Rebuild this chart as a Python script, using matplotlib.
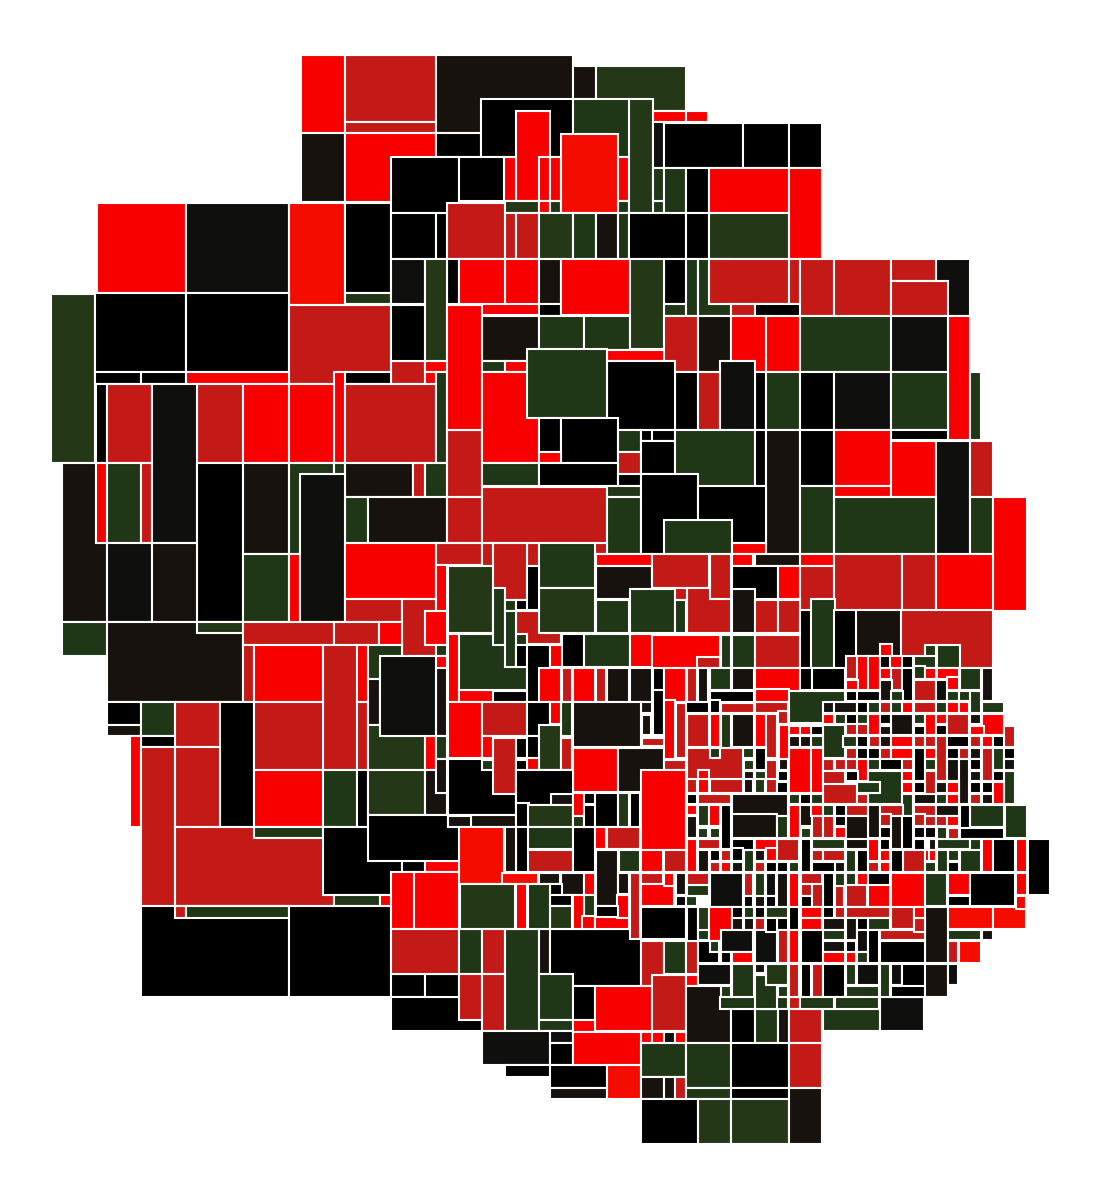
import matplotlib
matplotlib.use("Agg")
import matplotlib.pyplot as plt
from matplotlib.patches import Rectangle

# picture units: x right, y down. each box = (left, top, right, bottom, shade)
shades = {"R": "#f90000", "O": "#f40c00", "C": "#c41a17", "G": "#1f3716", "L": "#243717",
          "K": "#000000", "D": "#17120e", "N": "#0f0f0d"}

boxes_top = [
    (301,55,345,133,"R"), (345,55,436,122,"C"), (345,122,436,133,"C"), (436,55,573,133,"D"),
    (573,66,596,99,"D"), (596,66,686,111,"L"), (301,133,345,202,"D"), (345,133,436,202,"R"),
    (436,133,481,157,"K"), (481,99,573,157,"K"), (573,99,630,157,"G"), (653,111,686,122,"R"),
    (686,111,708,122,"R"), (516,111,550,201,"R"), (504,157,516,201,"R"), (539,157,550,201,"R"),
    (550,157,561,201,"R"), (618,157,629,201,"R"), (391,157,459,213,"K"), (459,157,504,201,"K"),
    (504,201,539,213,"L"), (539,201,550,213,"R"), (550,201,561,213,"G"), (618,201,629,213,"G"),
    (653,201,664,213,"G"), (561,134,618,213,"O"), (629,99,653,213,"L"),
    (653,122,664,168,"N"), (664,123,743,168,"K"), (743,123,789,168,"K"), (789,123,822,168,"K"),
    (653,168,664,201,"G"), (664,168,686,213,"G"), (686,168,709,213,"K"), (709,168,789,213,"R"),
    (789,168,822,259,"R"), (391,213,436,259,"K"), (436,213,447,259,"K"), (505,213,516,259,"C"),
    (516,213,539,259,"C"), (539,213,573,259,"L"), (573,213,596,259,"G"), (596,213,618,259,"D"),
    (618,213,629,259,"G"), (629,213,686,259,"K"), (686,213,709,259,"K"), (709,213,789,259,"L"),
    (447,203,505,259,"C"),
]

boxes_upper_mid = [
    (391,259,425,304,"N"), (447,259,459,304,"K"), (459,259,539,315,"R"), (505,259,539,304,"R"),
    (459,259,505,304,"R"), (539,259,561,304,"D"), (539,304,561,316,"K"), (561,259,630,315,"R"),
    (664,259,686,304,"K"), (664,304,686,316,"G"), (686,259,698,316,"G"), (698,259,731,316,"G"),
    (709,259,789,304,"C"), (731,304,755,316,"C"), (789,259,800,304,"C"), (755,304,800,316,"K"),
    (800,259,834,316,"C"), (834,259,891,316,"C"), (936,259,970,316,"N"), (891,259,936,281,"C"),
    (891,281,948,316,"C"), (391,305,425,361,"K"), (425,259,447,361,"L"), (482,316,539,361,"D"),
    (539,316,584,350,"G"), (584,316,630,350,"G"), (630,259,664,349,"L"), (664,316,698,372,"C"),
    (698,316,731,372,"D"), (731,316,766,372,"R"), (766,316,800,372,"R"), (800,316,891,372,"G"),
    (891,316,948,372,"N"), (948,316,970,440,"R"), (970,372,981,440,"G"), (447,305,482,430,"R"),
    (482,361,505,372,"G"), (505,361,527,372,"R"), (607,350,664,361,"R"), (482,372,539,463,"R"),
    (755,372,766,430,"K"), (766,372,800,430,"G"), (800,372,834,430,"K"), (834,372,891,430,"N"),
    (891,372,948,430,"G"), (891,430,948,440,"K"), (675,372,698,430,"K"), (698,372,720,430,"C"),
    (720,361,755,430,"N"), (607,361,675,430,"K"), (527,349,607,418,"G"),
]

boxes_left = [
    (97,203,186,293,"R"), (186,203,289,293,"N"), (289,203,345,305,"O"), (345,203,391,293,"K"),
    (345,293,391,304,"G"), (51,294,95,463,"L"), (95,293,186,372,"K"), (186,293,289,372,"K"),
    (289,305,391,384,"C"), (391,361,425,384,"C"), (95,372,141,384,"K"), (141,372,186,384,"K"),
    (186,372,289,384,"R"), (345,372,391,384,"K"), (334,372,345,463,"R"), (425,361,447,372,"R"),
    (425,372,436,463,"R"),
    (96,384,107,463,"K"), (107,384,152,463,"C"), (197,384,243,463,"C"), (243,384,289,463,"R"),
    (289,384,334,463,"R"), (345,384,436,463,"C"), (436,372,447,463,"G"), (62,463,107,622,"D"),
    (96,463,107,543,"R"), (107,463,141,543,"G"), (141,463,152,543,"C"), (152,384,197,543,"N"),
    (197,463,243,622,"K"), (243,463,289,554,"D"), (289,463,334,554,"G"), (334,463,345,543,"G"),
    (345,463,413,497,"D"), (413,463,425,497,"C"), (425,463,447,497,"G"), (447,430,482,497,"C"),
    (345,497,368,543,"G"), (368,497,447,543,"D"), (447,497,482,543,"C"), (482,487,607,554,"C"),
    (107,543,152,622,"N"), (152,543,197,622,"D"), (243,554,289,622,"G"), (289,554,300,633,"R"),
    (300,474,345,622,"N"), (345,543,436,599,"R"), (345,599,402,622,"C"),
    (402,599,436,656,"C"), (436,543,482,565,"C"), (436,565,447,622,"R"), (425,611,447,645,"R"),
    (62,622,107,656,"G"), (107,622,243,702,"D"), (197,622,243,633,"G"), (243,622,334,645,"C"),
    (334,622,379,645,"C"), (379,622,402,645,"R"), (243,645,254,702,"C"), (254,645,323,702,"R"),
    (323,645,357,770,"C"), (357,645,368,702,"R"), (357,702,368,770,"C"), (368,645,402,679,"G"),
    (107,702,141,725,"K"), (107,725,141,736,"D"), (141,702,175,736,"G"), (141,736,175,747,"K"),
    (175,702,220,747,"C"), (220,702,254,827,"K"), (254,702,323,770,"C"), (254,770,323,827,"R"),
    (323,770,357,827,"G"), (357,770,368,827,"K"), (368,679,380,725,"D"), (368,725,425,770,"L"),
    (368,770,425,815,"L"), (425,736,436,770,"R"), (425,770,447,815,"D"),
    (436,645,447,656,"G"), (436,656,447,668,"R"), (436,668,447,736,"D"), (436,736,447,759,"G"),
    (436,759,447,793,"D"), (380,656,436,736,"N"), (130,736,141,827,"R"), (141,747,175,906,"C"),
    (175,747,220,827,"C"), (175,827,334,906,"C"), (254,827,323,838,"G"), (323,827,402,895,"K"),
    (334,895,380,906,"G"), (380,895,391,906,"R"), (402,861,425,872,"K"), (425,861,459,872,"R"),
    (368,815,459,861,"K"), (141,906,289,997,"K"), (175,906,186,918,"C"),
    (186,906,289,918,"G"), (289,906,391,997,"K"), (391,974,425,997,"K"), (391,997,482,1031,"K"),
    (425,974,459,997,"K"), (391,872,414,929,"R"), (414,872,459,929,"R"), (391,929,459,974,"C"),
]

boxes_centre = [
    (539,418,561,452,"K"), (561,418,618,463,"K"), (618,430,641,452,"G"), (618,452,641,474,"C"),
    (641,430,652,441,"K"), (652,430,675,441,"K"), (641,441,675,474,"K"), (675,430,755,497,"G"),
    (755,430,766,486,"K"), (766,430,800,554,"D"), (800,430,834,486,"K"), (834,430,891,486,"R"),
    (834,486,891,497,"R"), (891,441,936,497,"R"), (800,486,834,554,"G"), (834,497,936,554,"G"),
    (936,441,970,554,"N"), (970,441,993,497,"C"), (970,497,993,554,"G"), (993,497,1027,611,"R"),
    (482,463,539,486,"G"), (539,452,561,463,"R"), (539,463,618,486,"K"), (618,474,641,486,"K"),
    (607,486,641,497,"G"), (607,497,641,554,"G"), (641,474,698,554,"K"), (698,486,766,543,"K"),
    (664,520,732,554,"G"), (732,543,766,554,"R"), (732,554,753,566,"R"), (755,554,800,566,"D"),
    (800,554,834,566,"R"), (482,543,493,566,"C"), (595,543,607,554,"C"),
    (527,543,539,566,"C"), (516,611,561,644,"C"), (493,543,527,600,"C"), (539,543,595,588,"G"),
    (539,588,595,633,"L"), (596,554,652,566,"R"), (596,566,652,599,"D"), (652,554,709,588,"C"),
    (653,588,687,600,"C"), (687,588,731,633,"C"), (710,554,731,599,"C"), (732,566,778,599,"K"),
    (732,589,755,633,"D"), (755,600,778,633,"C"), (778,566,800,599,"R"), (800,566,834,611,"C"),
    (834,554,902,611,"C"), (902,554,936,611,"C"), (936,554,993,611,"R"), (448,566,493,633,"L"),
    (596,600,629,633,"G"), (630,589,675,633,"G"), (675,600,686,633,"G"), (778,600,800,633,"C"),
    (562,634,584,667,"K"), (584,634,630,667,"G"), (630,634,652,667,"R"), (448,634,459,702,"R"),
    (459,690,493,702,"R"), (459,634,527,690,"G"), (493,588,505,645,"G"), (505,600,516,611,"G"),
    (505,611,516,667,"G"), (516,600,527,610,"K"), (527,566,539,610,"K"), (516,645,527,667,"K"),
    (527,645,550,702,"K"), (493,691,527,702,"K"), (550,645,562,667,"R"),
    (539,668,561,702,"R"), (562,668,572,702,"C"), (573,668,595,702,"R"), (596,668,606,702,"C"),
    (607,668,629,702,"D"), (630,668,652,702,"D"), (641,702,652,713,"D"), (653,668,664,702,"K"),
    (448,702,482,758,"R"), (482,702,527,736,"C"),
    (527,702,550,736,"K"), (550,702,561,724,"R"), (561,702,572,736,"G"), (573,702,641,747,"D"),
    (642,715,651,735,"D"), (653,690,664,735,"K"), (642,738,664,746,"C"),
    (482,736,493,758,"R"), (516,738,527,758,"K"),
    (527,736,539,758,"K"), (539,725,561,770,"L"), (561,738,572,770,"C"), (573,748,618,792,"R"),
    (618,748,664,792,"D"), (448,759,516,815,"K"), (482,760,493,770,"G"), (493,738,516,794,"C"),
    (448,815,516,827,"D"), (516,770,573,804,"K"), (527,758,539,770,"R"), (516,760,527,770,"K"),
]

boxes_bottom = [
    (459,929,482,974,"G"), (482,929,505,974,"C"), (505,929,539,1031,"G"), (539,929,550,974,"D"),
    (550,929,641,986,"K"), (641,941,664,986,"C"), (664,941,686,974,"G"), (686,941,698,974,"C"),
    (459,974,482,1020,"C"), (482,974,505,1031,"C"), (539,974,573,1020,"G"), (539,1020,573,1031,"G"),
    (573,986,595,1020,"K"), (595,986,652,1031,"R"), (652,975,686,1031,"C"), (686,975,698,986,"R"),
    (686,986,731,1043,"D"), (731,1009,755,1043,"K"), (755,1009,778,1043,"G"), (778,997,789,1043,"D"),
    (789,997,800,1009,"C"), (789,1009,822,1043,"C"), (823,1009,880,1031,"G"),
    (880,997,924,1031,"N"), (482,1031,550,1065,"N"), (550,1031,573,1043,"N"), (505,1065,550,1077,"K"),
    (550,1043,573,1065,"K"), (550,1065,607,1088,"K"), (550,1088,607,1099,"D"), (573,1020,595,1032,"R"),
    (595,1032,652,1043,"R"), (573,1032,641,1065,"R"), (607,1065,641,1099,"O"), (652,1032,664,1043,"R"),
    (664,1032,675,1043,"N"), (675,1032,686,1043,"R"),
    (641,1043,686,1077,"G"), (641,1077,664,1099,"D"), (664,1077,675,1099,"D"), (675,1077,686,1099,"C"),
    (686,1043,731,1088,"G"), (686,1088,731,1099,"G"), (731,1043,789,1088,"K"), (731,1088,789,1099,"K"),
    (789,1043,822,1088,"C"), (641,1099,698,1144,"K"), (698,1099,731,1144,"L"), (731,1099,789,1144,"L"),
    (789,1088,822,1144,"D"),
]

boxes_mid_right = [
    (653,636,719,667,"R"), (698,658,719,667,"C"), (722,636,730,667,"G"), (733,636,754,667,"G"),
    (756,636,799,667,"C"), (665,669,685,701,"R"), (665,701,674,758,"R"), (688,669,696,701,"C"),
    (699,669,707,701,"D"), (711,669,730,689,"G"), (733,669,753,689,"D"), (756,669,799,690,"R"),
    (756,690,788,701,"R"), (711,692,753,701,"K"), (711,701,719,712,"K"), (687,703,708,712,"K"),
    (722,704,753,712,"C"), (756,703,787,712,"C"), (779,712,787,723,"C"), (677,704,685,757,"C"),
    (688,715,708,746,"C"), (711,715,719,746,"R"), (722,715,730,757,"G"), (730,749,753,757,"G"),
    (733,715,753,746,"D"), (756,715,765,746,"R"), (767,715,776,757,"C"), (778,727,787,758,"R"),
    (756,749,765,769,"K"), (688,749,742,793,"C"), (699,771,708,791,"R"), (711,749,719,757,"G"),
    (665,761,685,769,"C"), (745,761,753,769,"G"), (745,772,753,792,"D"), (756,772,765,792,"G"),
    (767,761,776,792,"C"), (779,761,787,769,"K"), (779,772,787,780,"K"), (779,783,787,792,"K"),
    (642,771,685,849,"R"), (687,795,696,838,"R"),
]

boxes_lower_mid = [
    (449,817,470,826,"D"), (517,771,572,804,"K"), (517,804,528,826,"K"), (517,828,528,871,"K"),
    (506,828,515,871,"D"), (552,795,572,804,"D"), (529,806,572,826,"L"), (529,828,572,848,"G"),
    (529,851,572,871,"C"), (574,828,594,871,"K"), (574,794,583,815,"R"), (574,817,583,826,"G"),
    (585,794,594,803,"K"), (585,806,594,826,"K"), (596,794,617,826,"K"), (619,794,628,826,"G"),
    (631,794,639,826,"K"), (596,828,605,848,"R"), (608,828,639,848,"C"), (597,851,617,905,"D"),
    (620,851,639,871,"G"), (642,851,662,871,"R"), (665,851,685,871,"C"), (687,840,696,871,"R"),
    (460,828,503,883,"O"), (503,874,537,883,"O"), (540,874,559,883,"D"), (562,874,583,894,"D"),
    (585,874,594,894,"R"), (585,896,594,917,"G"), (551,885,561,896,"K"), (551,896,571,905,"K"),
    (551,907,571,928,"L"), (574,896,583,928,"R"), (583,917,594,928,"R"), (596,917,628,928,"R"),
    (618,896,628,917,"R"), (619,874,628,893,"D"), (597,907,617,916,"K"), (631,874,639,938,"C"),
    (642,874,662,883,"C"), (642,885,673,905,"R"), (665,874,673,885,"R"), (677,874,685,894,"D"),
    (677,897,685,905,"K"), (687,897,696,905,"G"), (687,874,696,894,"C"), (642,908,685,938,"K"),
    (687,908,696,938,"G"), (461,885,514,928,"L"), (517,885,526,928,"R"), (529,885,549,928,"G"),
]

boxes_dense_a = [
    (801,611,811,667,"K"), (812,600,834,667,"G"), (835,611,857,667,"K"),
    (857,611,902,655,"D"), (902,611,992,667,"C"), (926,646,935,656,"G"), (938,646,959,667,"G"),
    (881,645,891,656,"R"), (847,657,857,678,"C"), (858,657,868,689,"R"), (869,657,879,689,"R"),
    (881,657,891,667,"K"), (891,657,902,667,"R"), (903,657,912,667,"K"), (915,657,935,667,"G"),
    (915,667,924,678,"G"), (926,669,935,678,"R"), (938,669,958,678,"R"), (948,678,958,689,"R"),
    (961,669,980,689,"G"), (983,669,992,700,"D"), (801,669,811,689,"K"),
    (813,669,844,689,"K"), (847,681,857,689,"R"), (881,669,891,678,"R"), (892,669,902,689,"C"),
    (903,669,912,700,"K"), (915,681,935,700,"C"), (937,681,946,700,"N"), (948,692,958,700,"G"),
    (960,692,970,700,"G"), (971,692,980,712,"G"), (790,692,844,722,"G"), (847,692,857,700,"K"),
    (858,692,879,700,"K"), (881,681,891,700,"D"), (892,692,902,700,"G"), (824,703,833,712,"D"),
    (835,703,856,712,"D"), (858,703,867,712,"K"), (869,703,879,712,"G"), (881,703,891,712,"C"),
    (892,703,902,712,"G"), (903,703,912,712,"R"), (915,703,935,712,"C"), (937,703,946,712,"G"),
    (948,703,958,712,"R"), (960,703,968,712,"R"), (983,703,1003,712,"G"), (824,715,833,723,"R"),
    (836,715,845,723,"G"), (847,715,857,723,"K"), (858,715,867,723,"G"), (869,715,879,734,"R"),
    (881,715,890,723,"K"), (892,715,912,734,"D"), (915,715,924,723,"G"), (926,715,935,734,"R"),
    (937,715,946,723,"R"), (937,726,946,734,"K"), (948,715,968,734,"C"), (971,715,980,723,"D"),
    (983,715,1003,734,"R"), (971,727,983,734,"R"), (790,727,799,734,"R"), (801,727,811,734,"R"),
    (812,727,822,734,"K"), (824,726,844,757,"G"), (844,737,856,746,"G"), (847,725,857,734,"C"),
    (858,725,867,734,"C"), (881,727,890,734,"D"), (915,727,924,734,"K"), (1005,727,1014,746,"C"),
    (790,737,799,746,"D"), (801,737,811,746,"D"), (812,737,822,746,"G"), (858,737,867,746,"K"),
    (870,737,879,746,"C"), (881,737,890,746,"D"), (892,737,912,746,"R"), (915,737,924,746,"C"),
    (926,737,935,746,"C"), (937,737,946,780,"C"), (948,737,968,746,"K"), (971,737,980,746,"C"),
    (983,737,992,746,"R"), (994,737,1003,746,"K"), (790,749,811,792,"R"), (812,749,822,792,"R"),
    (847,749,857,758,"C"), (858,749,867,758,"K"), (869,749,879,758,"K"), (881,749,890,758,"C"),
    (892,749,912,758,"R"), (915,749,924,780,"K"), (926,749,935,758,"R"), (948,749,958,758,"K"),
    (960,749,968,758,"C"), (971,749,980,758,"D"), (983,749,992,780,"C"), (994,749,1003,769,"G"),
    (1005,749,1014,758,"K"), (780,726,788,758,"R"), (780,760,787,769,"D"), (824,760,833,772,"C"),
    (824,772,844,785,"C"), (824,785,856,803,"C"), (836,760,845,769,"C"), (847,760,857,769,"C"),
    (858,760,867,780,"R"), (869,760,879,769,"G"), (881,760,902,769,"K"), (903,760,912,769,"C"),
    (926,760,935,769,"G"), (948,760,958,780,"D"), (960,760,968,803,"D"), (971,760,980,769,"K"),
    (1005,760,1014,769,"D"),
]

boxes_dense_b = [
    (847,772,857,780,"K"), (869,772,902,803,"G"), (903,772,912,780,"R"),
    (926,772,935,803,"C"), (971,772,980,780,"D"), (994,772,1003,780,"K"), (1005,772,1014,803,"G"),
    (858,783,879,792,"G"), (903,783,912,792,"R"), (915,783,924,792,"K"),
    (937,783,946,792,"D"), (948,783,958,792,"R"), (971,783,980,792,"K"), (983,783,992,792,"K"),
    (994,783,1003,803,"R"), (790,795,799,803,"G"), (801,795,811,803,"K"),
    (812,795,822,803,"G"), (858,795,867,803,"C"), (847,806,867,815,"C"), (903,795,912,815,"G"),
    (915,795,935,803,"D"), (937,795,946,803,"G"), (948,795,958,803,"R"), (971,795,980,803,"C"),
    (983,795,992,803,"D"), (790,806,799,837,"R"), (801,806,811,825,"D"), (812,806,822,815,"R"),
    (824,806,833,815,"G"), (836,806,845,815,"K"), (869,806,879,837,"D"), (881,806,902,815,"C"),
    (881,815,890,825,"C"), (915,806,935,815,"C"), (915,815,924,825,"C"), (937,806,958,815,"D"),
    (961,806,969,829,"K"), (961,829,1003,838,"K"), (971,806,1003,826,"G"), (1006,806,1026,837,"G"),
    (801,828,811,837,"G"), (813,817,822,837,"C"), (824,817,833,837,"C"),
    (836,817,845,825,"K"), (836,828,845,837,"R"), (847,817,867,848,"D"), (881,828,890,837,"K"),
    (892,817,902,848,"D"), (903,817,912,848,"K"), (915,828,924,837,"K"), (926,828,935,837,"K"),
    (881,840,889,849,"K"), (915,840,924,849,"K"),
    (938,828,946,840,"G"), (938,840,969,848,"G"), (949,829,958,838,"C"), (926,817,935,825,"C"),
    (937,817,946,825,"C"), (948,817,958,825,"R"), (688,780,696,792,"C"), (699,780,708,792,"R"),
    (711,780,742,792,"C"), (745,780,752,792,"D"), (756,780,764,792,"G"), (767,780,776,792,"C"),
    (778,783,787,792,"K"), (688,795,696,803,"K"), (699,795,730,803,"C"), (733,795,787,815,"D"),
    (733,815,776,837,"D"), (778,817,787,837,"G"), (688,806,696,814,"R"), (699,806,708,825,"G"),
    (710,806,719,825,"R"), (722,806,730,848,"K"), (688,817,696,837,"D"), (699,829,707,837,"G"),
    (711,829,719,837,"G"), (802,829,810,837,"G"), (688,840,696,871,"R"), (699,840,719,848,"C"),
    (733,840,753,849,"K"), (733,849,742,860,"K"), (756,840,776,849,"R"), (767,849,776,860,"R"),
    (778,840,798,860,"C"), (802,840,810,871,"K"), (813,840,844,848,"G"), (847,840,867,848,"D"),
    (699,851,708,871,"D"), (711,851,719,860,"K"), (722,851,730,860,"C"), (745,851,753,871,"G"),
    (756,851,764,860,"D"), (813,851,822,860,"C"), (824,851,844,860,"C"), (847,851,855,871,"G"),
    (858,851,867,871,"K"), (869,840,878,860,"R"), (881,851,889,860,"R"), (892,851,902,871,"K"),
    (904,851,924,871,"C"), (926,851,935,860,"R"), (938,851,947,871,"G"), (711,863,719,871,"C"),
    (722,863,730,871,"R"), (733,863,742,871,"D"), (756,863,764,871,"C"), (767,863,776,871,"K"),
    (778,863,787,871,"K"), (790,863,798,871,"G"), (813,863,834,871,"K"), (836,863,844,871,"D"),
    (869,863,878,871,"C"), (881,863,889,871,"R"), (926,863,935,871,"G"),
]

boxes_dense_c = [
    (688,874,708,885,"C"), (711,874,742,906,"N"), (745,874,752,895,"C"), (756,874,764,895,"G"),
    (767,874,775,895,"N"), (778,874,787,906,"D"), (790,874,798,906,"R"), (802,874,821,885,"C"),
    (802,885,811,895,"C"), (824,874,833,906,"K"), (836,885,843,906,"C"), (836,874,844,885,"G"),
    (847,874,855,885,"G"), (858,874,867,885,"R"), (869,874,889,885,"K"), (847,886,866,906,"C"),
    (869,886,889,906,"R"), (892,874,924,906,"R"), (926,874,946,905,"G"), (688,886,708,895,"G"),
    (745,897,752,906,"K"), (756,897,764,906,"D"), (767,897,775,906,"K"), (802,897,811,906,"K"),
    (813,885,822,906,"C"), (688,908,697,940,"K"), (699,908,708,930,"L"), (710,908,731,940,"R"),
    (733,908,742,917,"K"), (745,908,753,917,"G"), (756,908,764,917,"K"), (767,908,787,917,"L"),
    (790,908,798,929,"K"), (802,908,821,917,"R"), (802,919,821,929,"R"), (824,908,833,917,"K"),
    (836,908,844,917,"C"), (824,919,844,929,"D"), (847,908,889,917,"C"), (892,908,913,928,"C"),
    (915,908,924,917,"R"), (926,908,947,962,"D"), (847,919,856,939,"D"), (858,919,867,929,"K"),
    (869,919,889,929,"G"), (881,931,924,939,"C"), (915,919,924,931,"C"), (733,919,742,929,"D"),
    (745,919,753,929,"D"), (756,919,764,929,"C"), (778,919,787,929,"K"), (699,931,708,939,"G"),
    (722,931,752,951,"N"), (699,942,718,962,"K"), (711,942,718,951,"G"), (722,953,730,962,"K"),
    (733,953,752,962,"R"), (756,931,776,962,"N"), (767,919,776,931,"K"), (779,931,787,962,"C"),
    (790,931,798,962,"R"), (802,931,822,962,"K"), (824,931,844,939,"G"), (824,942,844,951,"D"),
    (824,953,844,962,"R"), (847,942,855,951,"K"), (847,953,855,962,"R"), (858,931,867,951,"N"),
    (858,953,867,962,"G"), (869,931,878,962,"K"), (881,942,924,962,"K"), (949,942,957,962,"C"),
    (960,942,980,962,"O"), (949,931,980,939,"G"), (983,931,992,939,"D"), (699,965,730,984,"N"),
    (722,987,730,998,"G"), (721,998,787,1008,"G"), (756,976,776,1008,"G"), (733,965,753,996,"G"),
    (756,965,764,972,"D"), (767,965,787,984,"L"), (779,987,787,996,"G"), (790,965,798,996,"C"),
    (802,965,810,996,"K"), (813,965,822,996,"C"), (824,965,844,996,"K"), (847,965,855,984,"G"),
    (858,965,878,984,"N"), (847,987,878,998,"G"), (836,998,878,1008,"G"), (801,998,833,1008,"G"),
    (881,965,889,996,"G"), (892,965,901,984,"N"), (903,965,924,996,"K"), (892,987,924,996,"K"),
    (926,965,947,996,"D"), (949,965,957,984,"N"), (930,840,935,849,"D"), (930,851,935,860,"R"),
    (971,840,980,871,"G"), (961,851,980,871,"G"), (983,840,992,871,"R"), (994,840,1014,871,"K"),
    (1017,840,1026,871,"R"), (1029,840,1049,894,"K"), (949,851,958,860,"G"), (949,863,958,871,"K"),
    (949,874,969,894,"R"), (949,897,969,905,"K"), (971,874,1014,905,"K"), (1017,874,1026,894,"R"),
    (949,908,992,928,"O"), (994,908,1025,928,"O"), (1017,897,1025,908,"R"),
]

fig, ax = plt.subplots(figsize=(11, 12), dpi=100)
ax.set_position([0, 0, 1, 1])
ax.set_xlim(0, 1100)
ax.set_ylim(1200, 0)
ax.axis("off")


def draw(group, pad=0):
    for x0, y0, x1, y1, s in group:
        ax.add_patch(Rectangle((x0 - pad, y0 - pad), x1 - x0 + 2 * pad, y1 - y0 + 2 * pad,
                               facecolor=shades[s], edgecolor="white", linewidth=1.5))


for group in [boxes_left, boxes_top, boxes_upper_mid, boxes_centre, boxes_bottom]:
    draw(group)
for group in [boxes_mid_right, boxes_lower_mid, boxes_dense_a, boxes_dense_b, boxes_dense_c]:
    draw(group, pad=1.2)

plt.savefig("out.png", dpi=100)
